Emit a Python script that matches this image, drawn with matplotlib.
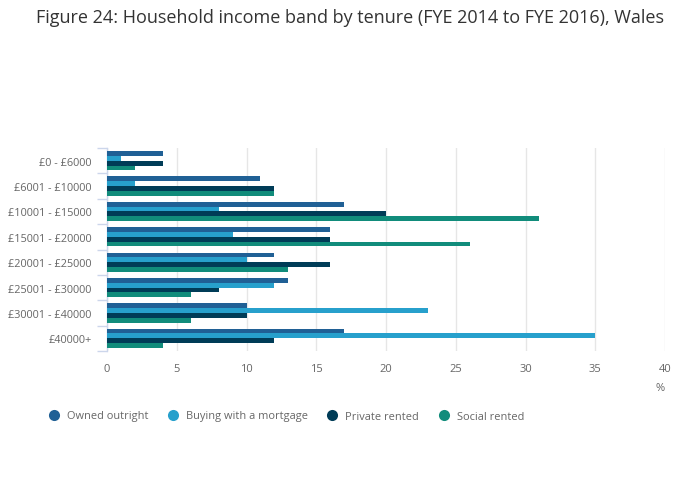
import matplotlib.pyplot as plt
import numpy as np
from matplotlib.lines import Line2D

plt.rcParams['font.family'] = ['Open Sans', 'DejaVu Sans']

categories = ["£0 - £6000", "£6001 - £10000", "£10001 - £15000", "£15001 - £20000",
              "£20001 - £25000", "£25001 - £30000", "£30001 - £40000", "£40000+"]
series_names = ["Owned outright", "Buying with a mortgage", "Private rented", "Social rented"]
owned_outright = [4, 11, 17, 16, 12, 13, 10, 17]
buying_mortgage = [1, 2, 8, 9, 10, 12, 23, 35]
private_rented = [4, 12, 20, 16, 16, 8, 10, 12]
social_rented = [2, 12, 31, 26, 13, 6, 6, 4]
x_ticks = [0, 5, 10, 15, 20, 25, 30, 35, 40]

colors = ["#206095", "#27a0cc", "#003c57", "#118c7b"]
series = [owned_outright, buying_mortgage, private_rented, social_rented]

fig = plt.figure(figsize=(7, 5.02), dpi=100)
ax = fig.add_axes([107 / 700, 1 - 352 / 502, (665 - 107) / 700, 203 / 502])

n = len(categories)
y = np.arange(n)
bar_h = 0.19
for i, (vals, col) in enumerate(zip(series, colors)):
    ax.barh(y + (i - 1.5) * bar_h, vals, height=bar_h, color=col, zorder=3, linewidth=0)

ax.set_xlim(0, 40)
ax.set_ylim(n - 0.5, -0.5)
ax.set_xticks(x_ticks)
ax.set_xticklabels([str(t) for t in x_ticks], color="#666666", fontsize=8)
ax.set_yticks(y)
ax.set_yticklabels(categories, color="#666666", fontsize=7.8)
ax.set_yticks(np.arange(-0.5, n, 1), minor=True)
ax.tick_params(axis="y", which="major", length=0, pad=11)
ax.tick_params(axis="y", which="minor", length=7, color="#ccd6eb", width=1)
ax.tick_params(axis="x", length=0, pad=9)

ax.grid(axis="x", color="#e6e6e6", linewidth=1, zorder=0)
for side in ["top", "right", "bottom"]:
    ax.spines[side].set_visible(False)
ax.spines["left"].set_color("#ccd6eb")
ax.spines["left"].set_linewidth(1)

fig.text(660 / 700, 1 - 389 / 502, "%", color="#666666", fontsize=8, ha="center", va="center")
fig.text(0.5, 1 - 18 / 502, "Figure 24: Household income band by tenure (FYE 2014 to FYE 2016), Wales",
         color="#333333", fontsize=13, ha="center", va="center")

handles = [Line2D([], [], marker="o", linestyle="", markersize=8, markerfacecolor=c,
                  markeredgewidth=0) for c in colors]
leg = fig.legend(handles, series_names, loc="center left", bbox_to_anchor=(41.5 / 700, 1 - 417 / 502),
                 ncol=4, frameon=False, fontsize=7.9, handletextpad=0.58, columnspacing=1.65,
                 borderpad=0, handlelength=1.2)
for t in leg.get_texts():
    t.set_color("#666666")

fig.savefig("out.png", dpi=100)
